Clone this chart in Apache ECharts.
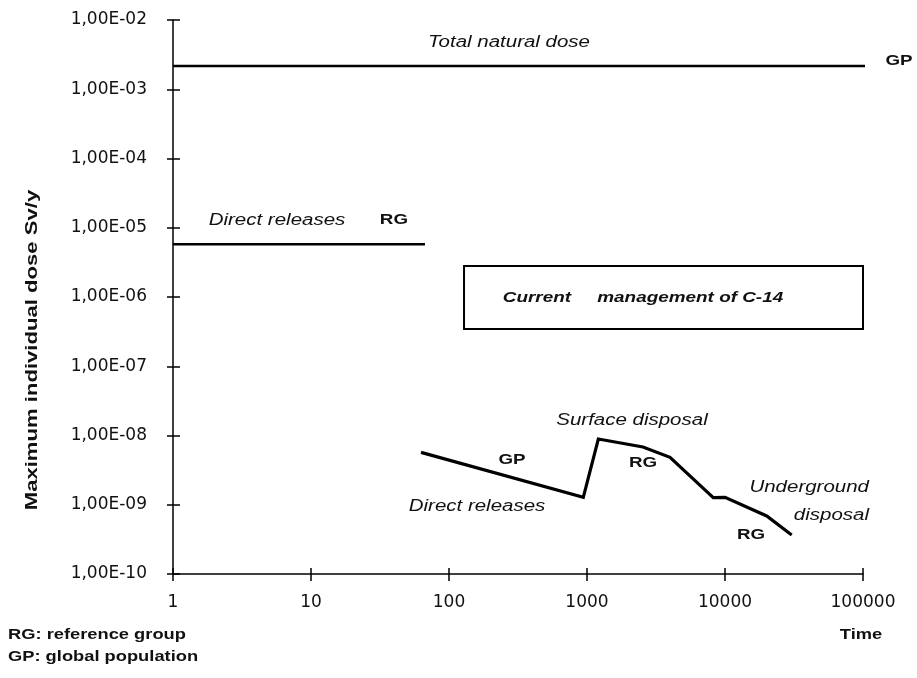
<!DOCTYPE html>
<html><head><meta charset="utf-8">
<script src="https://cdn.jsdelivr.net/npm/echarts@6/dist/echarts.min.js"></script>
<style>html,body{margin:0;padding:0;background:#fff}#c{width:917px;height:678px}</style>
</head><body><div id="c"></div>
<script>
// ---- data ----
const xTickLabels = ['1', '10', '100', '1000', '10000', '100000'];
const yTickLabels = ['1,00E-10', '1,00E-09', '1,00E-08', '1,00E-07', '1,00E-06', '1,00E-05', '1,00E-04', '1,00E-03', '1,00E-02'];
const naturalDoseTime = [1, 108700];
const naturalDoseValue = [2.17e-3, 2.17e-3];
const directRgTime = [1, 67];
const directRgValue = [5.77e-6, 5.77e-6];
const c14Time = [62.7, 940, 1208, 2545, 3995, 8225, 10000, 20050, 30430];
const c14Value = [5.71e-9, 1.28e-9, 8.9e-9, 6.82e-9, 4.85e-9, 1.27e-9, 1.28e-9, 6.88e-10, 3.66e-10];
const boxTime = [128.5, 100000];
const boxValue = [3.45e-7, 2.8e-6];
const noteTexts = ['Total natural dose', 'GP', 'Direct releases', 'RG', 'Surface disposal', 'GP', 'RG', 'Direct releases', 'Underground\ndisposal', 'RG', 'Current     management of C-14'];
const noteTime = [272, 182400, 5.67, 39.9, 2118, 286, 2545, 159.6, 110500, 15420, 2545];
const noteValue = [4.8e-3, 2.56e-3, 1.29e-5, 1.29e-5, 1.62e-8, 4.43e-9, 4.01e-9, 9.27e-10, 1.1e-9, 3.66e-10, 9.7e-7];
const noteKind = ['i', 'b', 'i', 'b', 'i', 'b', 'b', 'i', 'ir', 'b', 'bi'];

const FONT = '"Liberation Sans", Arial, sans-serif';
const pair = (xs, ys) => xs.map((x, i) => [x, ys[i]]);

const chart = echarts.init(document.getElementById('c'), null, {renderer: 'canvas'});

const baseX = {
  type: 'log', logBase: 10, min: 1, max: 100000, splitNumber: 5,
  gridIndex: 0, position: 'bottom', splitLine: {show: false}, minorTick: {show: false}
};
const baseY = {
  type: 'log', logBase: 10, min: 1e-10, max: 1e-2, splitNumber: 8,
  gridIndex: 0, position: 'left', splitLine: {show: false}, minorTick: {show: false}
};

const option = {
  backgroundColor: '#fff',
  animation: false,
  grid: {left: 173, right: 54, top: 20, bottom: 104, containLabel: false},
  xAxis: [
    Object.assign({}, baseX, {
      axisLine: {show: true, lineStyle: {color: '#000', width: 1.5}},
      axisTick: {show: true, inside: false, length: 7, lineStyle: {color: '#000', width: 1.5}},
      axisLabel: {
        show: true, margin: 20, color: '#111', fontFamily: '"DejaVu Sans", sans-serif', fontSize: 17,
        formatter: v => xTickLabels[Math.round(Math.log10(v))]
      }
    }),
    Object.assign({}, baseX, {
      axisLine: {show: false},
      axisTick: {show: true, inside: true, length: 6, lineStyle: {color: '#000', width: 1.5}},
      axisLabel: {show: false}
    })
  ],
  yAxis: [
    Object.assign({}, baseY, {
      axisLine: {show: true, lineStyle: {color: '#000', width: 1.5}},
      axisTick: {show: true, inside: false, length: 6, lineStyle: {color: '#000', width: 1.5}},
      axisLabel: {
        show: true, margin: 26, color: '#111', fontFamily: '"DejaVu Sans", sans-serif', fontSize: 17,
        formatter: v => yTickLabels[Math.round(Math.log10(v)) + 10]
      }
    }),
    Object.assign({}, baseY, {
      axisLine: {show: false},
      axisTick: {show: true, inside: true, length: 7, lineStyle: {color: '#000', width: 1.5}},
      axisLabel: {show: false}
    })
  ],
  series: [
    {
      name: 'natural', type: 'line', xAxisIndex: 0, yAxisIndex: 0, clip: false,
      data: pair(naturalDoseTime, naturalDoseValue), symbol: 'none',
      lineStyle: {color: '#000', width: 2.5}
    },
    {
      name: 'directRG', type: 'line', xAxisIndex: 0, yAxisIndex: 0,
      data: pair(directRgTime, directRgValue), symbol: 'none',
      lineStyle: {color: '#000', width: 2.5}
    },
    {
      name: 'c14', type: 'line', xAxisIndex: 0, yAxisIndex: 0,
      data: pair(c14Time, c14Value), symbol: 'none',
      lineStyle: {color: '#000', width: 3.2, join: 'miter'},
      markArea: {
        silent: true,
        itemStyle: {color: 'rgba(0,0,0,0)', borderColor: '#000', borderWidth: 2},
        label: {show: false},
        data: [[{coord: [boxTime[0], boxValue[1]]}, {coord: [boxTime[1], boxValue[0]]}]]
      }
    }
  ]
};
chart.setOption(option);

function textEl(x, y, text, font, align, scaleX, extra) {
  return Object.assign({
    type: 'text', x: x, y: y, scaleX: scaleX, silent: true, z: 100,
    style: {
      text: text, font: font, fill: '#111',
      align: align, textAlign: align,
      verticalAlign: 'middle', textVerticalAlign: 'middle'
    }
  }, extra || {});
}

const graphics = [];
noteTexts.forEach((t, i) => {
  const p = chart.convertToPixel({seriesIndex: 2}, [noteTime[i], noteValue[i]]);
  const k = noteKind[i];
  if (k === 'i') graphics.push(textEl(p[0], p[1], t, 'italic 16px ' + FONT, 'center', 1.28));
  else if (k === 'b') graphics.push(textEl(p[0], p[1], t, 'bold 15px ' + FONT, 'center', 1.25));
  else if (k === 'bi') graphics.push(textEl(p[0], p[1], t, 'italic bold 15px ' + FONT, 'center', 1.26));
  else if (k === 'ir') {
    const el = textEl(p[0], p[1], t, 'italic 16px ' + FONT, 'right', 1.28);
    el.style.lineHeight = 28;
    graphics.push(el);
  }
});
// axis title and footnotes
graphics.push(textEl(32, 350, 'Maximum individual dose Sv/y', 'bold 17px ' + FONT, 'center', 1.3, {rotation: Math.PI / 2}));
graphics.push(textEl(8, 635, 'RG: reference group', 'bold 15px ' + FONT, 'left', 1.22));
graphics.push(textEl(8, 657, 'GP: global population', 'bold 15px ' + FONT, 'left', 1.22));
graphics.push(textEl(861, 635, 'Time', 'bold 15px ' + FONT, 'center', 1.22));

chart.setOption({graphic: {elements: graphics}});
</script>
</body></html>
